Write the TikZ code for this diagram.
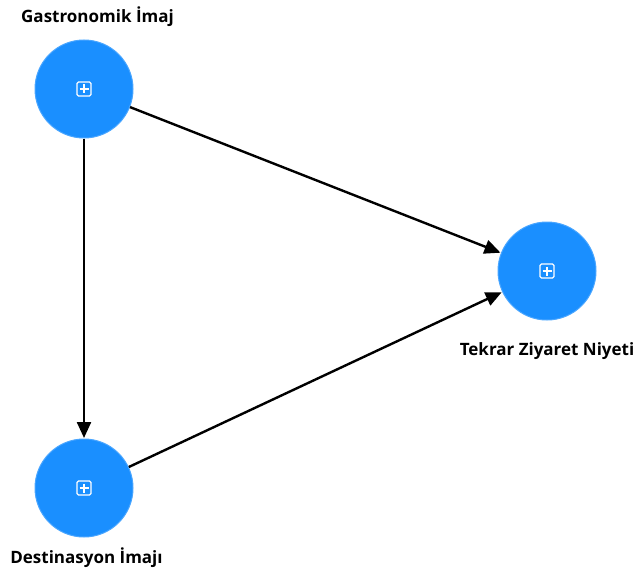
\documentclass[tikz,border=0pt]{standalone}
\usepackage{fontspec}
\setmainfont{Open Sans}
\usetikzlibrary{arrows.meta}
\begin{document}
\begin{tikzpicture}[x=1pt,y=-1pt,
  latent/.style={circle, fill=blueA, draw=blueB, line width=1pt, minimum size=98pt, inner sep=0pt},
  lbl/.style={font=\bfseries\fontsize{17}{19}\selectfont, text=black, inner sep=0pt},
  path/.style={line width=2.4pt, -{Triangle[length=16pt,width=14pt]}, shorten >=0.5pt}]
\definecolor{blueA}{HTML}{1A8FFF}
\definecolor{blueB}{HTML}{4AA6FF}
\useasboundingbox (0,0) rectangle (636,583);
\tikzset{icon/.pic={
  \draw[white, line width=1.1pt, rounded corners=1.5pt] (-7,-7) rectangle (7,7);
  \draw[white, line width=1.1pt] (-4.5,0) -- (4.5,0) (0,-4.5) -- (0,4.5);
}}
\node[latent] (gi) at (84,89) {};
\node[latent] (di) at (84,488) {};
\node[latent] (tz) at (547,271) {};
\pic at (gi.center) {icon};
\pic at (di.center) {icon};
\pic at (tz.center) {icon};
\node[lbl] (lgi) at (97.5,17) {Gastronomik İmaj};
\node[lbl] (ldi) at (86.5,558) {Destinasyon İmajı};
\node[lbl] (ltz) at (547,351) {Tekrar Ziyaret Niyeti};
\draw[path] (gi) -- (tz);
\draw[path] (gi) -- (di);
\draw[path] (di) -- (tz);
\end{tikzpicture}
\end{document}
